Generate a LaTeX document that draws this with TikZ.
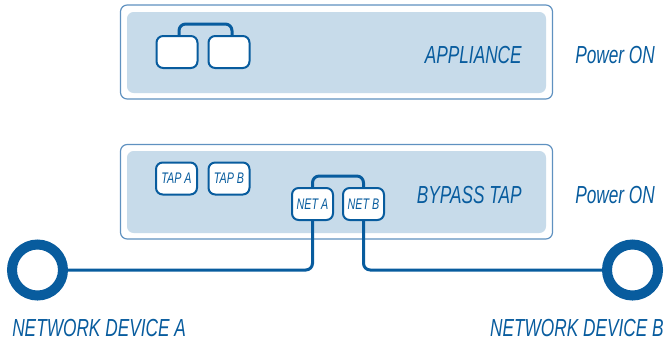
\documentclass[tikz,border=0pt]{standalone}
\usepackage{fontspec}
\setmainfont{Liberation Sans}[FakeStretch=0.7]
\definecolor{tapblue}{RGB}{8,92,158}
\definecolor{panelfill}{RGB}{199,219,234}
\definecolor{framecol}{RGB}{95,145,192}
\tikzset{
  port/.style={draw=tapblue,fill=white,line width=1.5pt,rounded corners=5pt,
    minimum width=30.75pt,minimum height=24pt,inner sep=0pt,
    font=\fontsize{11.5}{12}\selectfont\itshape,text=tapblue},
  wire/.style={draw=tapblue,line width=2.25pt,rounded corners=5pt},
  device/.style={circle,draw=tapblue,line width=7.5pt,minimum size=38.25pt,inner sep=0pt},
  label/.style={font=\fontsize{18.5}{20}\selectfont\itshape,text=tapblue,inner sep=0pt}
}
\begin{document}
\begin{tikzpicture}[x=0.75pt,y=0.75pt,yscale=-1,xscale=1]
    \useasboundingbox (0,0) rectangle (668,350);

    %Appliance chassis
    \draw[framecol,line width=0.9pt,rounded corners=5pt,fill=white] (120.5,5) rectangle (552.5,99);
    \fill[panelfill,rounded corners=5pt] (127,12) rectangle (546,93);
    %Bypass tap chassis
    \draw[framecol,line width=0.9pt,rounded corners=5pt,fill=white] (120.5,144.5) rectangle (552.5,239);
    \fill[panelfill,rounded corners=5pt] (127,151) rectangle (546,233);

    %Appliance ports
    \node[port] (appA) at (177,52) {};
    \node[port] (appB) at (229,52) {};
    \draw[wire] ([xshift=1.5pt]appA.north) -- ++(0,-11) -| ([xshift=2.25pt]appB.north);

    %Tap ports
    \node[port] (tapA) at (176.5,178.5) {TAP A};
    \node[port] (tapB) at (229,178.5) {TAP B};
    \node[port] (netA) at (312.5,204) {NET A};
    \node[port] (netB) at (363.5,204) {NET B};
    \draw[wire] (netA.north) -- ++(0,-11) -| (netB.north);

    %Network devices
    \node[device] (devA) at (37.5,270) {};
    \node[device] (devB) at (632.5,270) {};
    \draw[wire] (netA.south) |- (devA.east);
    \draw[wire] (netB.south) |- (devB.west);

    %Labels
    \node[label,anchor=east] (lblApp) at (522,55) {APPLIANCE};
    \node[label,anchor=east] (lblTap) at (522,195) {BYPASS TAP};
    \node[label,anchor=west] (pwrApp) at (575,55) {Power ON};
    \node[label,anchor=west] (pwrTap) at (575,195) {Power ON};
    \node[label,anchor=west] (lblDevA) at (12,328) {NETWORK DEVICE A};
    \node[label,anchor=east] (lblDevB) at (664,328) {NETWORK DEVICE B};
\end{tikzpicture}
\end{document}
